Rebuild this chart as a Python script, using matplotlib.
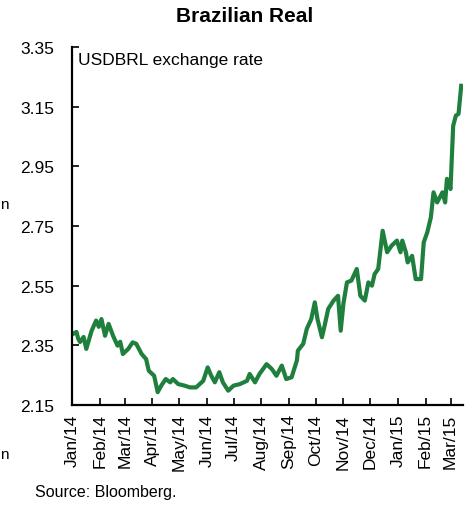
import numpy as np
import pandas as pd
import matplotlib
matplotlib.use("Agg")
import matplotlib.pyplot as plt
import matplotlib.dates as mdates

plt.rcParams['font.family'] = ['Liberation Sans', 'DejaVu Sans']

# USDBRL close, sampled off the daily series
dates = ["2014-01-02", "2014-01-06", "2014-01-08", "2014-01-10", "2014-01-14", "2014-01-17",
         "2014-01-23", "2014-01-28", "2014-01-31", "2014-02-03", "2014-02-07", "2014-02-11",
         "2014-02-16", "2014-02-21", "2014-02-24", "2014-02-27", "2014-03-05", "2014-03-10",
         "2014-03-14", "2014-03-20", "2014-03-25", "2014-03-28", "2014-04-03", "2014-04-07",
         "2014-04-11", "2014-04-16", "2014-04-21", "2014-04-24", "2014-04-30", "2014-05-07",
         "2014-05-13", "2014-05-20", "2014-05-28", "2014-06-02", "2014-06-06", "2014-06-10",
         "2014-06-15", "2014-06-19", "2014-06-25", "2014-07-01", "2014-07-08", "2014-07-16",
         "2014-07-19", "2014-07-25", "2014-07-30", "2014-08-07", "2014-08-13", "2014-08-18",
         "2014-08-24", "2014-08-29", "2014-09-04", "2014-09-10", "2014-09-11", "2014-09-17",
         "2014-09-21", "2014-09-26", "2014-09-30", "2014-10-03", "2014-10-08", "2014-10-11",
         "2014-10-15", "2014-10-21", "2014-10-26", "2014-10-29", "2014-11-01", "2014-11-05",
         "2014-11-10", "2014-11-16", "2014-11-20", "2014-11-25", "2014-11-29", "2014-12-03",
         "2014-12-06", "2014-12-10", "2014-12-15", "2014-12-20", "2014-12-25", "2014-12-31",
         "2015-01-04", "2015-01-06", "2015-01-10", "2015-01-12", "2015-01-17", "2015-01-21",
         "2015-01-27", "2015-01-30", "2015-02-03", "2015-02-07", "2015-02-10", "2015-02-14",
         "2015-02-20", "2015-02-23", "2015-02-25", "2015-03-01", "2015-03-04", "2015-03-07",
         "2015-03-10", "2015-03-13"]
usdbrl = [2.388, 2.395, 2.372, 2.361, 2.378, 2.338,
          2.399, 2.433, 2.412, 2.438, 2.382, 2.422,
          2.382, 2.349, 2.362, 2.321, 2.338, 2.360,
          2.355, 2.321, 2.304, 2.265, 2.248, 2.193,
          2.215, 2.237, 2.226, 2.237, 2.220, 2.215,
          2.209, 2.209, 2.231, 2.276, 2.248, 2.226,
          2.260, 2.226, 2.198, 2.215, 2.220, 2.231,
          2.254, 2.226, 2.254, 2.287, 2.270, 2.248,
          2.282, 2.237, 2.243, 2.300, 2.332, 2.355,
          2.405, 2.438, 2.494, 2.438, 2.377, 2.416,
          2.472, 2.500, 2.516, 2.399, 2.489, 2.561,
          2.567, 2.606, 2.516, 2.500, 2.561, 2.550,
          2.589, 2.606, 2.734, 2.662, 2.684, 2.701,
          2.662, 2.701, 2.662, 2.628, 2.650, 2.572,
          2.572, 2.695, 2.729, 2.779, 2.863, 2.829,
          2.863, 2.829, 2.908, 2.874, 3.086, 3.120,
          3.126, 3.220]

yticks = [2.15, 2.35, 2.55, 2.75, 2.95, 3.15, 3.35]

x = pd.to_datetime(dates)

fig = plt.figure(figsize=(4.66, 5.06), dpi=100)
ax = fig.add_axes([72 / 466, 1 - 406 / 506, 391 / 466, 358 / 506])

ax.plot(x, usdbrl, color="#1f7f3d", lw=3.0, solid_joinstyle="round")

ax.set_ylim(2.15, 3.35)
ax.set_yticks(yticks)
ax.set_yticklabels(["%.2f" % t for t in yticks])
ax.set_xlim(pd.Timestamp("2014-01-01"), pd.Timestamp("2015-03-15"))
ax.xaxis.set_major_locator(mdates.MonthLocator())
ax.xaxis.set_major_formatter(mdates.DateFormatter("%b/%y"))

for s in ["top", "right"]:
    ax.spines[s].set_visible(False)
for s in ["left", "bottom"]:
    ax.spines[s].set_linewidth(1.6)
ax.tick_params(axis="y", direction="in", length=5, width=1.2, pad=13, labelsize=12.5)
ax.tick_params(axis="x", direction="in", length=5, width=1.2, pad=6, labelsize=12.5,
               labelrotation=90)

ax.text(0.015, 0.985, "USDBRL exchange rate", transform=ax.transAxes,
        ha="left", va="top", fontsize=12.5)

fig.text(245 / 466, 1 - 17 / 506, "Brazilian Real", ha="center", va="center",
         fontsize=15, fontweight="bold")
fig.text(35 / 466, 1 - 493 / 506, "Source: Bloomberg.", ha="left", va="center", fontsize=11.5)

# edge of the neighbouring panel's axis title
fig.text(0, 1 - 205 / 506, "n", ha="left", va="center", fontsize=11)
fig.text(0, 1 - 455 / 506, "n", ha="left", va="center", fontsize=11)

fig.savefig("out.png", dpi=100)
